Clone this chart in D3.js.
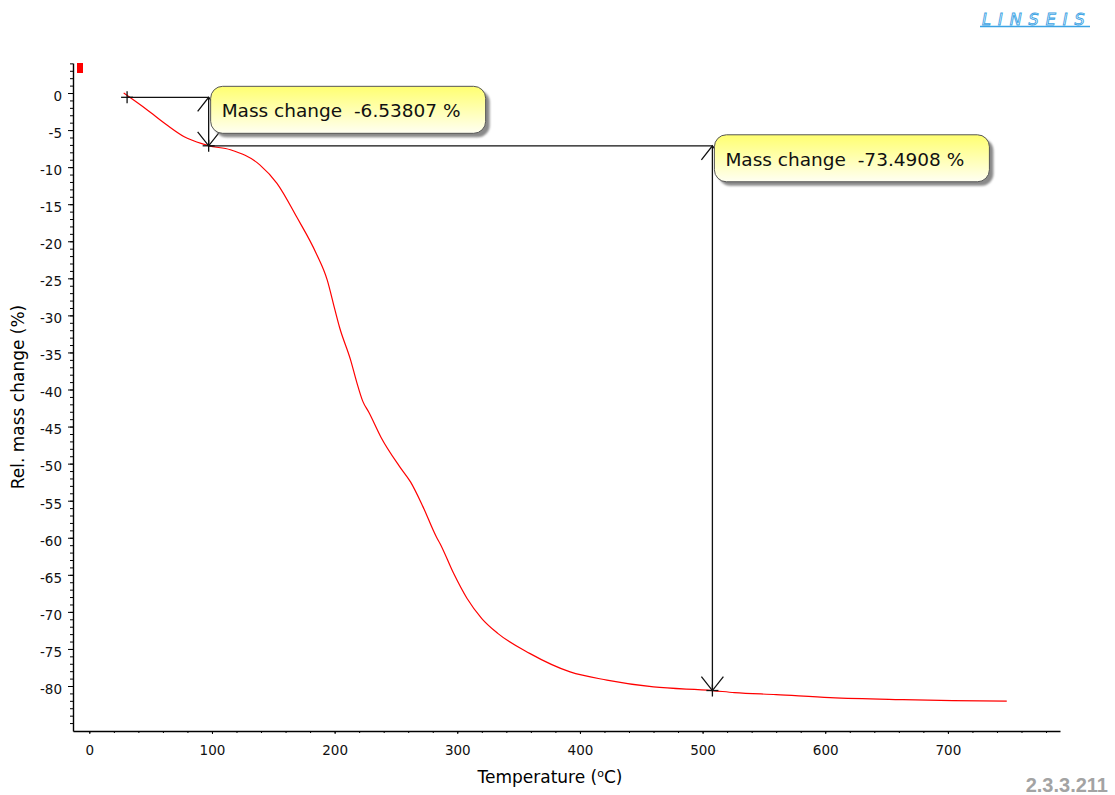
<!DOCTYPE html>
<html>
<head>
<meta charset="utf-8">
<script src="https://cdn.jsdelivr.net/npm/d3@7"></script>
<style>
  body { margin: 0; background: #fff; }
  svg { display: block; }
  .axis path, .axis line { stroke: #000; }
  .axis text { font-family: "DejaVu Sans", sans-serif; font-size: 13.5px; fill: #111; }
</style>
</head>
<body>
<div id="chart"></div>
<script>
// TGA curve
var tempC = [28, 47, 63, 77, 93, 97, 115, 139, 153, 169, 185, 194, 200, 204, 213, 218, 223, 228,
             238, 253, 262, 272, 283, 286, 297, 308, 320, 333, 359, 392, 422, 460, 508, 526, 560,
             604, 661, 704, 748];
var massPct = [0, -2.25, -4.28, -5.86, -6.9, -7.1, -7.65, -9.69, -12.19, -16.7, -21.64, -25.24,
               -29.1, -31.6, -36.0, -39.0, -41.6, -43.1, -46.5, -50.4, -52.5, -55.8,
               -59.9, -60.8, -64.8, -68.2, -70.9, -72.9, -75.6, -78.1, -79.2, -80.13, -80.61,
               -80.89, -81.16, -81.56, -81.83, -81.97, -82.03];

// measurement markers (step evaluation)
var markT = [30.8, 97.3, 508.0];
var markM = [-0.58, -7.12, -80.61];
var stepLabels = ["Mass change  -6.53807 %", "Mass change  -73.4908 %"];

// ticks
var xMajor = [0, 100, 200, 300, 400, 500, 600, 700];
var yMajor = [0, -5, -10, -15, -20, -25, -30, -35, -40, -45, -50, -55, -60, -65, -70, -75, -80];

var W = 1115, H = 795;

var svg = d3.select("#chart").append("svg")
  .attr("width", W)
  .attr("height", H);

var x = d3.scaleLinear().domain([-13.3, 791.4]).range([73, 1060]);
var y = d3.scaleLinear().domain([4.05, -86.07]).range([63, 731]);

var xMinor = d3.range(0, 781, 20);
var yMinor = d3.range(-85, 5, 1);
var plain = function(d) { return String(d); };   // keep "-" not unicode minus

// minor ticks first
svg.append("g")
  .attr("class", "axis")
  .attr("transform", "translate(0,731)")
  .call(d3.axisBottom(x).tickValues(xMinor).tickSize(2).tickSizeOuter(0).tickFormat(""))
  .select(".domain").remove();
svg.append("g")
  .attr("class", "axis")
  .attr("transform", "translate(73,0)")
  .call(d3.axisLeft(y).tickValues(yMinor).tickSize(3).tickSizeOuter(0).tickFormat(""))
  .select(".domain").remove();

// major ticks + labels
var xAx = svg.append("g")
  .attr("class", "axis")
  .attr("transform", "translate(0,731)")
  .call(d3.axisBottom(x).tickValues(xMajor).tickSize(3).tickSizeOuter(0).tickPadding(11).tickFormat(plain));
xAx.select(".domain").attr("stroke-width", 1.4);

var yAx = svg.append("g")
  .attr("class", "axis")
  .attr("transform", "translate(73,0)")
  .call(d3.axisLeft(y).tickValues(yMajor).tickSize(5).tickSizeOuter(0).tickPadding(6).tickFormat(plain));
yAx.select(".domain").attr("stroke-width", 1.4);
yAx.selectAll("text").attr("transform", "translate(0,3)");

// axis titles
svg.append("text")
  .attr("transform", "translate(24,397) rotate(-90)")
  .attr("text-anchor", "middle")
  .style("font-family", "DejaVu Sans, sans-serif")
  .style("font-size", "17px")
  .text("Rel. mass change (%)");

var xt = svg.append("text")
  .attr("x", 550)
  .attr("y", 783)
  .attr("text-anchor", "middle")
  .style("font-family", "DejaVu Sans, sans-serif")
  .style("font-size", "17px");
xt.append("tspan").text("Temperature (");
xt.append("tspan").attr("dy", -6).style("font-size", "11px").text("o");
xt.append("tspan").attr("dy", 6).text("C)");

// little red curve marker
svg.append("rect")
  .attr("x", 77).attr("y", 63)
  .attr("width", 6).attr("height", 10)
  .attr("fill", "#ff0000");

// the curve
var pts = tempC.map(function(t, i) { return [t, massPct[i]]; });
var line = d3.line()
  .x(function(d) { return x(d[0]); })
  .y(function(d) { return y(d[1]); })
  .curve(d3.curveMonotoneX);

svg.append("path")
  .datum(pts)
  .attr("d", line)
  .attr("fill", "none")
  .attr("stroke", "#ff0000")
  .attr("stroke-width", 1.2);

// step annotations
var defs = svg.append("defs");
var grad = defs.append("linearGradient")
  .attr("id", "boxGrad")
  .attr("x1", 0).attr("y1", 0).attr("x2", 0).attr("y2", 1);
grad.append("stop").attr("offset", "0%").attr("stop-color", "#ffff70");
grad.append("stop").attr("offset", "100%").attr("stop-color", "#fffff2");

var blur = defs.append("filter").attr("id", "shadowBlur");
blur.append("feGaussianBlur").attr("stdDeviation", 1);

var ann = svg.append("g").attr("stroke", "#111").attr("stroke-width", 1.3).attr("fill", "none");

function cross(g, px, py) {
  g.append("line").attr("x1", px - 6).attr("x2", px + 6).attr("y1", py).attr("y2", py);
  g.append("line").attr("x1", px).attr("x2", px).attr("y1", py - 6).attr("y2", py + 6);
}

markT.forEach(function(t, i) { cross(ann, x(t), y(markM[i])); });

for (var i = 0; i < stepLabels.length; i++) {
  var x0 = x(markT[i]), y0 = y(markM[i]);
  var x1 = x(markT[i + 1]), y1 = y(markM[i + 1]);

  ann.append("line").attr("x1", x0).attr("x2", x1).attr("y1", y0).attr("y2", y0);
  ann.append("line").attr("x1", x1).attr("x2", x1).attr("y1", y0).attr("y2", y1);
  // open arrow heads at both ends
  ann.append("path").attr("d", "M" + (x1 - 11) + "," + (y0 + 14) + "L" + x1 + "," + y0 + "L" + (x1 + 11) + "," + (y0 + 14));
  ann.append("path").attr("d", "M" + (x1 - 11) + "," + (y1 - 14) + "L" + x1 + "," + y1 + "L" + (x1 + 11) + "," + (y1 - 14));

  var bx = x1 + 2, by = y0 - 11, bw = 275, bh = 47;
  var box = svg.append("g");
  box.append("rect")
    .attr("x", bx + 4).attr("y", by + 4)
    .attr("width", bw).attr("height", bh)
    .attr("rx", 12)
    .attr("fill", "#8a8a8a")
    .attr("filter", "url(#shadowBlur)");
  box.append("rect")
    .attr("x", bx).attr("y", by)
    .attr("width", bw).attr("height", bh)
    .attr("rx", 12)
    .attr("fill", "url(#boxGrad)")
    .attr("stroke", "#555")
    .attr("stroke-width", 1);
  box.append("text")
    .attr("x", bx + 11)
    .attr("y", by + 31)
    .style("font-family", "DejaVu Sans, sans-serif")
    .style("font-size", "18.5px")
    .style("white-space", "pre")
    .attr("fill", "#111")
    .text(stepLabels[i]);
}

// logo
svg.append("text")
  .attr("x", 982)
  .attr("y", 25)
  .style("font-family", "DejaVu Sans, sans-serif")
  .style("font-size", "16px")
  .style("font-style", "italic")
  .style("letter-spacing", "7px")
  .attr("fill", "#fff")
  .attr("stroke", "#3ba3e4")
  .attr("stroke-width", 0.9)
  .text("LINSEIS");
svg.append("line")
  .attr("x1", 980).attr("x2", 1090)
  .attr("y1", 26.5).attr("y2", 26.5)
  .attr("stroke", "#3ba3e4")
  .attr("stroke-width", 1.5);

// version
svg.append("text")
  .attr("x", 1108)
  .attr("y", 792)
  .attr("text-anchor", "end")
  .style("font-family", "Liberation Sans, sans-serif")
  .style("font-weight", "bold")
  .style("font-size", "20px")
  .attr("fill", "#a3a3a3")
  .text("2.3.3.211");
</script>
</body>
</html>
